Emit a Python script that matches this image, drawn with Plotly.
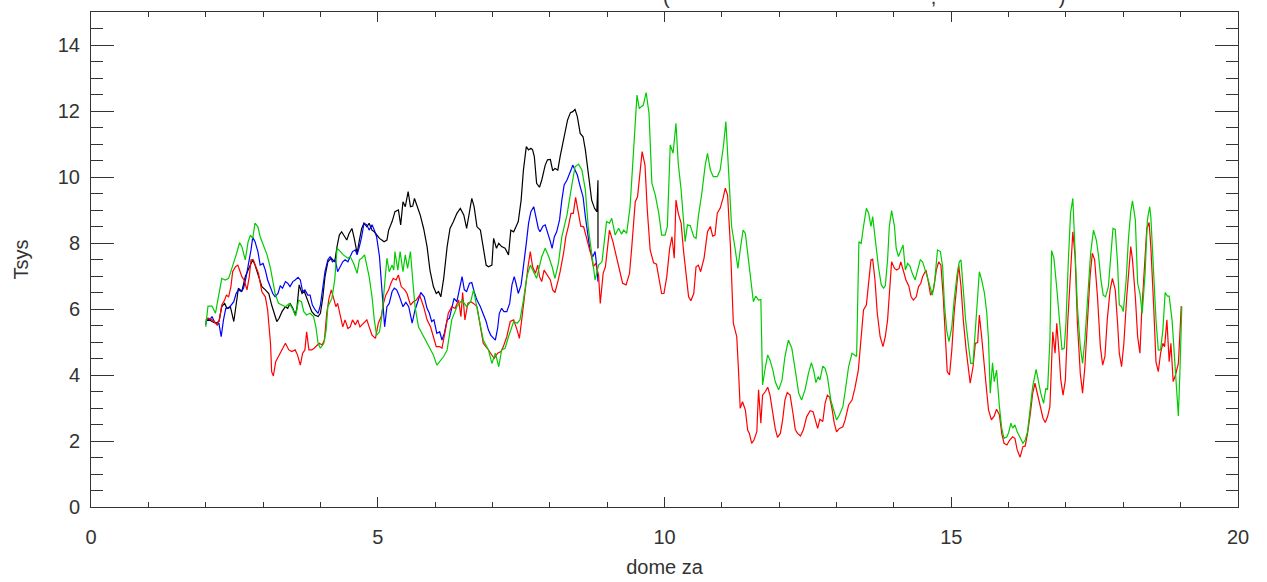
import plotly.graph_objects as go

# ---------------- data ----------------
green_x = [2.00,2.04,2.11,2.17,2.28,2.34,2.40,2.45,2.49,2.54,2.59,2.63,2.69,2.74,2.78,2.82,2.86,2.91,2.95,3.01,
           3.07,3.13,3.17,3.21,3.27,3.33,3.39,3.46,3.51,3.57,3.62,3.67,3.71,3.76,3.82,3.88,3.92,3.96,4.00,4.06,
           4.10,4.13,4.20,4.25,4.29,4.35,4.40,4.48,4.52,4.58,4.64,4.68,4.72,4.77,4.81,4.85,4.90,4.94,4.98,5.03,
           5.07,5.12,5.16,5.20,5.25,5.28,5.30,5.35,5.39,5.44,5.48,5.52,5.57,5.61,5.65,5.71,5.80,5.89,5.97,6.03,
           6.15,6.21,6.29,6.38,6.47,6.55,6.62,6.67,6.76,6.84,6.93,6.99,7.05,7.11,7.16,7.22,7.28,7.37,7.43,7.48,
           7.54,7.60,7.66,7.72,7.77,7.86,7.92,7.98,8.04,8.09,8.15,8.21,8.30,8.38,8.44,8.50,8.56,8.62,8.67,8.73,
           8.79,8.85,8.91,8.99,9.04,9.08,9.14,9.20,9.25,9.29,9.34,9.40,9.46,9.52,9.56,9.63,9.68,9.73,9.78,9.84,
           9.90,9.95,10.01,10.05,10.10,10.15,10.20,10.24,10.29,10.33,10.36,10.40,10.45,10.51,10.55,10.59,10.65,10.71,10.75,10.80,
           10.85,10.92,10.97,11.03,11.07,11.12,11.17,11.23,11.28,11.32,11.37,11.41,11.45,11.50,11.55,11.59,11.64,11.68,11.71,11.76,
           11.80,11.84,11.89,11.93,11.99,12.05,12.10,12.16,12.22,12.28,12.34,12.39,12.45,12.51,12.56,12.60,12.64,12.68,12.71,12.76,
           12.80,12.84,12.90,12.95,13.00,13.05,13.11,13.15,13.21,13.27,13.32,13.35,13.39,13.43,13.47,13.52,13.56,13.60,13.63,13.67,
           13.73,13.78,13.82,13.85,13.89,13.92,13.96,14.01,14.04,14.08,14.12,14.16,14.20,14.24,14.28,14.32,14.37,14.41,14.46,14.50,
           14.55,14.59,14.63,14.67,14.71,14.76,14.81,14.85,14.88,14.92,14.96,15.01,15.05,15.10,15.14,15.17,15.21,15.25,15.30,15.34,
           15.38,15.42,15.45,15.49,15.53,15.58,15.62,15.65,15.68,15.72,15.75,15.79,15.84,15.88,15.92,15.97,16.00,16.04,16.07,16.11,
           16.15,16.20,16.25,16.29,16.33,16.38,16.42,16.48,16.52,16.56,16.61,16.65,16.68,16.72,16.75,16.79,16.84,16.89,16.93,16.97,
           17.00,17.04,17.08,17.12,17.16,17.20,17.25,17.29,17.33,17.38,17.43,17.48,17.53,17.57,17.61,17.65,17.69,17.74,17.78,17.82,
           17.86,17.90,17.93,17.97,18.00,18.05,18.09,18.13,18.16,18.21,18.25,18.29,18.33,18.38,18.42,18.46,18.48,18.53,18.57,18.61,
           18.65,18.69,18.73,18.77,18.80,18.85,18.89,18.92,18.96,18.99,19.01,19.02]
green_y = [5.46,6.09,6.09,5.87,6.93,6.88,6.93,7.18,7.43,7.69,8.01,7.89,7.49,8.04,8.24,8.14,8.60,8.49,8.19,7.94,
           7.64,7.23,6.88,6.47,6.17,6.12,6.07,6.17,6.02,5.79,6.27,6.22,5.92,5.82,5.87,5.77,5.47,4.96,4.81,4.96,
           5.36,6.07,6.32,6.88,7.84,7.74,7.64,7.54,7.59,7.38,7.08,7.49,7.54,7.64,7.33,6.98,6.37,5.67,5.21,5.31,
           5.77,6.88,7.54,7.13,7.33,7.18,7.74,7.18,7.74,7.13,7.64,7.23,7.74,6.88,6.07,5.46,5.16,4.86,4.61,4.30,
           4.56,4.76,5.67,6.07,6.27,6.07,6.22,6.58,5.77,5.06,4.76,4.35,4.66,4.25,4.76,4.81,5.16,5.62,5.57,5.67,
           6.27,6.98,7.33,7.08,6.93,7.59,7.84,7.59,7.28,6.93,7.38,8.19,8.85,9.71,10.31,10.39,10.21,9.61,8.49,7.69,
           6.88,7.33,7.43,8.65,8.60,8.75,8.24,8.45,8.27,8.39,8.29,9.10,10.92,12.48,12.08,12.18,12.56,11.93,9.81,9.45,
           8.90,8.24,8.24,8.50,10.97,10.72,11.63,10.41,9.61,8.70,8.04,8.55,8.52,8.19,8.14,8.80,9.50,10.36,10.72,10.21,
           10.01,10.01,10.21,10.97,11.68,10.11,8.50,7.84,7.23,7.79,8.39,8.29,7.69,6.78,6.22,6.39,6.27,6.29,3.70,4.25,
           4.61,4.45,4.15,3.80,3.55,3.85,4.56,5.06,4.81,4.15,3.45,3.24,3.55,4.05,4.37,4.15,3.77,3.95,3.85,4.27,
           4.20,3.95,3.24,2.94,2.64,2.79,3.04,3.50,4.25,4.66,4.61,4.56,8.04,7.99,8.50,9.05,8.90,8.50,8.80,8.19,
           7.28,6.73,6.63,6.70,7.49,8.50,8.98,8.50,7.84,7.59,7.74,7.94,7.18,7.38,7.30,7.08,6.88,7.13,7.49,7.43,
           7.18,6.93,6.68,6.42,6.83,7.79,7.74,7.28,6.17,5.36,5.01,5.46,6.27,7.03,7.43,7.49,6.58,5.67,4.91,4.35,
           4.35,5.31,6.27,7.13,6.88,6.47,5.87,5.06,3.45,4.37,3.80,4.15,3.04,2.39,2.08,2.13,2.25,2.54,2.39,2.49,
           2.28,2.08,1.93,2.03,2.28,3.04,3.65,4.17,3.75,3.45,3.14,3.60,3.55,5.06,7.77,7.54,6.63,5.46,4.78,4.81,
           5.57,7.38,8.90,9.35,7.89,6.07,4.86,4.35,5.06,6.37,7.69,8.39,8.09,7.59,6.88,6.42,6.37,6.68,7.59,8.44,
           8.41,7.38,6.12,6.07,5.92,6.88,8.14,8.95,9.28,8.70,6.78,6.47,5.87,7.08,8.70,9.10,8.80,7.08,5.67,4.76,
           4.76,5.36,6.50,6.39,6.39,5.67,4.66,3.75,2.76,4.25,5.77,6.07]

red_x = [2.00,2.05,2.11,2.15,2.20,2.24,2.28,2.33,2.36,2.40,2.44,2.47,2.52,2.56,2.59,2.63,2.67,2.72,2.76,2.79,
         2.83,2.88,2.92,2.98,3.04,3.08,3.13,3.15,3.18,3.22,3.27,3.33,3.39,3.45,3.50,3.56,3.60,3.65,3.69,3.73,
         3.76,3.80,3.85,3.89,3.94,3.98,4.03,4.07,4.11,4.15,4.19,4.23,4.27,4.30,4.35,4.39,4.43,4.48,4.52,4.56,
         4.61,4.65,4.69,4.75,4.81,4.85,4.90,4.96,5.01,5.06,5.10,5.14,5.19,5.23,5.27,5.32,5.36,5.41,5.47,5.51,
         5.57,5.62,5.67,5.73,5.80,5.86,5.92,5.97,6.02,6.08,6.12,6.18,6.23,6.29,6.35,6.41,6.45,6.48,6.52,6.57,
         6.62,6.67,6.73,6.79,6.84,6.91,6.97,7.03,7.09,7.15,7.19,7.25,7.31,7.37,7.43,7.47,7.51,7.57,7.62,7.66,
         7.70,7.75,7.79,7.82,7.86,7.90,7.95,8.01,8.05,8.09,8.14,8.18,8.24,8.28,8.33,8.37,8.41,8.45,8.50,8.54,
         8.59,8.63,8.68,8.72,8.76,8.80,8.85,8.88,8.93,8.97,9.04,9.10,9.16,9.22,9.27,9.33,9.39,9.43,9.49,9.53,
         9.57,9.61,9.66,9.70,9.75,9.81,9.86,9.91,9.95,9.99,10.04,10.09,10.13,10.17,10.20,10.24,10.29,10.33,10.38,10.42,
         10.46,10.51,10.55,10.59,10.63,10.69,10.75,10.80,10.84,10.88,10.92,10.97,11.02,11.06,11.10,11.15,11.20,11.26,11.29,11.32,
         11.36,11.41,11.45,11.48,11.52,11.56,11.61,11.64,11.68,11.71,11.76,11.80,11.84,11.89,11.93,11.97,12.02,12.06,12.10,12.14,
         12.19,12.24,12.28,12.32,12.37,12.42,12.48,12.54,12.59,12.63,12.67,12.71,12.76,12.80,12.84,12.88,12.92,12.96,13.00,13.05,
         13.11,13.15,13.21,13.27,13.32,13.38,13.42,13.47,13.52,13.56,13.60,13.63,13.67,13.71,13.76,13.81,13.85,13.89,13.92,13.96,
         14.01,14.05,14.09,14.12,14.17,14.21,14.26,14.30,14.34,14.39,14.43,14.47,14.50,14.56,14.60,14.64,14.69,14.74,14.78,14.82,
         14.86,14.91,14.93,14.97,15.01,15.05,15.10,15.13,15.17,15.21,15.26,15.30,15.33,15.38,15.42,15.46,15.49,15.53,15.57,15.61,
         15.65,15.70,15.75,15.79,15.84,15.88,15.92,15.97,16.02,16.07,16.11,16.15,16.20,16.25,16.29,16.33,16.38,16.42,16.46,16.50,
         16.55,16.60,16.64,16.68,16.72,16.75,16.77,16.81,16.84,16.88,16.91,16.95,16.99,17.03,17.07,17.12,17.16,17.20,17.25,17.29,
         17.33,17.38,17.42,17.46,17.50,17.55,17.60,17.64,17.68,17.72,17.77,17.81,17.86,17.90,17.93,17.97,18.01,18.06,18.11,18.13,
         18.16,18.21,18.25,18.29,18.32,18.36,18.41,18.45,18.48,18.53,18.57,18.61,18.65,18.69,18.72,18.76,18.80,18.83,18.87,18.91,
         18.96,18.99,19.01]
red_y = [5.67,5.72,5.67,5.62,5.52,5.67,6.12,6.27,6.42,6.37,6.68,7.13,7.28,7.33,7.18,6.98,6.88,6.58,6.98,7.49,
         7.49,7.28,7.08,6.52,6.37,5.97,4.96,4.10,3.97,4.40,4.56,4.76,4.96,4.76,4.71,4.76,4.61,4.30,4.66,4.76,
         5.31,4.76,4.76,4.81,4.91,4.96,4.91,5.06,5.87,6.32,6.58,6.32,6.07,6.17,5.82,5.46,5.67,5.41,5.46,5.67,
         5.52,5.67,5.46,5.57,5.67,5.46,5.21,5.11,5.57,5.77,6.17,6.42,6.58,6.78,6.93,6.88,7.03,6.68,6.58,6.47,
         6.12,6.22,6.27,6.42,6.07,5.67,5.46,5.16,4.86,4.86,4.81,5.36,5.87,6.07,6.02,6.27,5.77,6.50,5.67,6.17,
         6.22,6.17,6.07,5.46,4.96,4.81,4.66,4.50,4.66,4.71,4.86,5.16,5.62,5.67,5.36,5.11,5.67,6.58,7.28,7.74,
         7.28,7.08,7.33,6.98,6.83,7.18,7.03,6.88,6.58,6.50,6.83,7.13,7.69,8.19,8.55,8.90,8.90,9.38,8.90,8.51,
         8.49,8.19,7.89,7.64,7.28,7.38,7.03,6.17,7.08,7.28,8.39,8.04,7.59,7.08,6.78,6.73,7.08,7.89,9.25,9.40,
         10.01,10.77,10.36,9.00,7.79,7.40,7.36,6.88,6.47,6.47,6.98,7.84,8.19,7.54,9.30,8.90,8.60,7.79,6.98,6.37,
         6.25,6.47,7.28,7.33,7.13,7.54,8.34,8.50,8.21,8.24,8.90,9.05,9.35,9.66,9.45,7.89,5.57,5.16,4.15,2.99,
         3.19,2.94,2.33,2.23,1.93,2.03,2.28,3.55,2.54,3.39,3.50,3.63,3.39,2.84,2.38,2.11,2.23,2.64,3.24,3.47,
         3.39,2.84,2.35,2.23,2.15,2.33,2.74,2.92,2.89,2.64,2.38,2.66,2.59,3.14,3.39,3.32,2.99,2.54,2.28,2.38,
         2.43,2.64,3.09,3.24,3.60,4.15,4.86,5.97,6.12,6.78,7.49,7.51,6.88,5.87,5.16,4.86,5.16,5.67,6.58,7.43,
         7.23,7.18,7.23,7.43,7.13,6.88,6.70,6.37,6.27,6.37,6.68,6.78,6.98,7.18,6.83,6.42,6.58,7.18,7.43,7.33,
         6.37,4.76,4.10,4.00,4.76,5.87,6.88,7.33,6.68,5.67,4.76,4.05,3.75,4.25,4.96,4.98,5.82,5.16,4.30,3.65,
         2.94,2.64,2.76,2.96,2.79,2.23,1.93,1.88,2.03,2.13,2.08,1.73,1.51,1.83,1.85,2.23,2.84,3.45,3.75,3.45,
         3.04,2.69,2.56,2.74,3.04,4.40,5.31,4.66,5.57,4.66,3.85,3.39,3.85,5.57,6.98,8.34,7.59,5.57,4.05,3.45,
         4.25,5.77,6.98,7.69,7.49,6.37,4.86,4.30,4.56,5.67,6.58,6.93,6.58,5.57,4.66,4.25,4.96,6.37,7.49,7.89,
         7.49,6.37,5.16,4.66,5.87,7.18,8.44,8.62,7.89,6.07,4.40,4.10,4.66,4.96,4.86,5.67,4.40,4.96,3.80,4.00,
         4.35,5.36,6.09]

black_x = [2.00,2.05,2.11,2.17,2.23,2.28,2.33,2.37,2.43,2.49,2.53,2.57,2.63,2.69,2.74,2.78,2.82,2.86,2.92,2.98,
           3.04,3.10,3.15,3.20,3.24,3.28,3.33,3.39,3.43,3.47,3.52,3.56,3.59,3.63,3.68,3.72,3.76,3.80,3.85,3.90,
           3.96,4.00,4.04,4.08,4.13,4.19,4.25,4.29,4.33,4.37,4.42,4.46,4.50,4.55,4.59,4.64,4.68,4.72,4.76,4.81,
           4.85,4.90,4.94,4.98,5.03,5.07,5.11,5.16,5.19,5.25,5.30,5.36,5.40,5.44,5.48,5.53,5.57,5.61,5.64,5.68,
           5.74,5.80,5.86,5.91,5.97,6.02,6.06,6.10,6.15,6.21,6.26,6.32,6.38,6.44,6.50,6.55,6.60,6.64,6.68,6.73,
           6.79,6.84,6.89,6.93,6.99,7.02,7.07,7.11,7.16,7.22,7.28,7.32,7.37,7.41,7.45,7.50,7.54,7.59,7.63,7.67,
           7.70,7.73,7.77,7.82,7.86,7.92,7.96,8.01,8.05,8.09,8.14,8.18,8.23,8.27,8.31,8.36,8.40,8.44,8.48,8.53,
           8.58,8.62,8.66,8.69,8.73,8.78,8.82,8.84,8.84,8.845,8.845]
black_y = [5.62,5.69,5.62,5.57,5.62,6.07,6.17,6.02,6.07,5.62,6.12,6.63,6.53,6.98,7.18,7.33,7.49,7.33,7.03,6.68,
           6.58,6.47,6.12,5.87,5.62,5.72,5.92,6.07,6.02,6.17,6.02,5.82,6.02,6.73,6.47,6.53,6.32,6.12,5.92,5.82,
           5.77,5.87,6.32,6.98,7.43,7.54,7.43,7.89,8.24,8.34,8.19,8.09,8.29,8.44,8.14,7.69,8.09,8.44,8.60,8.49,
           8.60,8.39,8.34,8.24,8.14,8.09,8.04,8.09,8.39,8.65,8.95,9.00,8.55,9.25,9.10,9.56,9.10,9.12,9.35,9.15,
           8.85,8.44,7.89,7.18,6.68,6.47,6.53,6.37,6.93,7.89,8.44,8.65,8.90,9.05,8.85,8.44,8.90,9.35,9.10,8.49,
           8.39,7.79,7.33,7.28,7.33,8.14,7.84,7.99,7.89,7.84,7.64,8.39,8.34,8.49,8.65,9.30,10.21,10.92,10.82,10.87,
           10.82,10.62,9.81,9.69,9.91,10.36,10.52,10.53,10.19,10.26,10.21,10.62,11.07,11.42,11.73,11.95,11.98,12.05,11.83,11.32,
           11.22,10.82,10.21,9.81,9.30,9.05,8.95,9.90,7.85,9.90,7.85]

blue_x = [2.00,2.02,2.07,2.11,2.15,2.20,2.23,2.27,2.31,2.35,2.40,2.45,2.49,2.53,2.57,2.62,2.66,2.70,2.75,2.79,
          2.82,2.86,2.91,2.95,3.00,3.04,3.08,3.13,3.17,3.21,3.26,3.30,3.34,3.39,3.43,3.47,3.52,3.56,3.61,3.65,
          3.69,3.73,3.78,3.82,3.86,3.91,3.96,4.00,4.04,4.08,4.13,4.17,4.21,4.26,4.30,4.35,4.39,4.43,4.48,4.52,
          4.56,4.61,4.64,4.68,4.72,4.76,4.81,4.85,4.90,4.94,4.98,5.03,5.06,5.09,5.12,5.16,5.20,5.25,5.29,5.33,
          5.37,5.44,5.49,5.54,5.60,5.65,5.71,5.75,5.81,5.86,5.90,5.94,5.98,6.03,6.08,6.12,6.16,6.21,6.25,6.29,
          6.33,6.38,6.43,6.47,6.51,6.55,6.60,6.64,6.68,6.73,6.79,6.84,6.89,6.93,6.97,7.02,7.05,7.09,7.12,7.16,
          7.20,7.25,7.30,7.34,7.38,7.41,7.45,7.50,7.54,7.59,7.63,7.67,7.72,7.76,7.80,7.83,7.88,7.92,7.96,8.01,
          8.04,8.08,8.12,8.17,8.21,8.25,8.30,8.34,8.38,8.40,8.44,8.48,8.53,8.58,8.62,8.66,8.70,8.75,8.79,8.82,
          8.84]
blue_y = [5.52,5.72,5.67,5.77,5.62,5.52,5.57,5.16,5.67,6.02,6.02,6.12,6.22,6.47,6.58,6.53,6.63,6.93,7.38,7.79,
          8.17,8.04,7.74,7.33,7.38,7.18,6.88,6.68,6.47,6.37,6.47,6.70,6.63,6.83,6.78,6.68,6.83,6.88,6.96,6.88,
          6.53,6.58,6.42,6.42,6.12,5.97,5.87,6.12,6.68,7.13,7.49,7.59,7.43,7.49,7.13,7.28,7.43,7.49,7.43,7.59,
          7.74,7.79,7.64,7.89,8.19,8.60,8.55,8.39,8.55,8.39,8.19,7.59,6.78,6.07,5.46,6.07,6.17,6.53,6.63,6.58,
          6.42,6.07,6.20,6.07,5.57,5.97,6.27,6.50,6.37,6.02,5.87,5.62,5.67,5.26,5.31,5.06,5.26,5.67,5.72,6.02,
          6.32,6.22,6.68,6.98,6.58,6.53,6.78,6.80,6.53,6.27,6.07,5.87,5.62,5.36,5.21,5.11,5.06,5.41,5.87,6.02,
          5.92,5.92,6.17,6.73,6.98,6.78,6.47,6.73,7.38,7.99,8.60,8.95,9.10,8.80,8.44,8.34,8.51,8.55,8.34,8.04,
          7.84,8.19,8.34,8.70,9.30,9.76,9.91,10.06,10.26,10.36,10.21,10.06,9.71,9.40,8.80,8.29,7.79,7.58,7.74,7.28,
          6.83]

x_ticks = [0, 5, 10, 15, 20]
y_ticks = [0, 2, 4, 6, 8, 10, 12, 14]

# ---------------- figure ----------------
FONT = "Liberation Sans"
AX = "#333333"

fig = go.Figure()
for xs, ys, col in [(black_x, black_y, "#000000"),
                    (blue_x, blue_y, "#0000ff"),
                    (red_x, red_y, "#ff0000"),
                    (green_x, green_y, "#00cc00")]:
    fig.add_trace(go.Scatter(x=xs, y=ys, mode="lines",
                             line=dict(color=col, width=1.2),
                             showlegend=False, hoverinfo="skip"))

fig.update_xaxes(range=[0, 20], tickvals=x_ticks, ticktext=[str(v) for v in x_ticks],
                 ticks="inside", ticklen=10, tickwidth=1, tickcolor=AX,
                 minor=dict(dtick=1, ticks="inside", ticklen=5, tickcolor=AX, showgrid=False),
                 showline=True, linecolor=AX, linewidth=1, mirror="allticks",
                 showgrid=False, zeroline=False, ticklabelstandoff=12, automargin=False,
                 tickfont=dict(family=FONT, size=20, color=AX),
                 title=dict(text="dome za", font=dict(family=FONT, size=20, color=AX), standoff=12))
fig.update_yaxes(range=[0, 15], tickvals=y_ticks, ticktext=[str(v) for v in y_ticks],
                 ticks="inside", ticklen=23, tickwidth=1, tickcolor=AX,
                 minor=dict(dtick=0.5, ticks="inside", ticklen=12, tickcolor=AX, showgrid=False),
                 showline=True, linecolor=AX, linewidth=1, mirror="allticks",
                 showgrid=False, zeroline=False, ticklabelstandoff=6, automargin=False,
                 tickfont=dict(family=FONT, size=20, color=AX),
                 title=dict(text="Tsys", font=dict(family=FONT, size=20, color=AX), standoff=23))

# title of the original plot, clipped by the top edge: only "(", "," and ")" show
fig.add_annotation(text="(" + "\u00a0" * 47 + "," + "\u00a0" * 22 + ")",
                   xref="paper", yref="paper", x=(662 - 91) / 1147, y=1 + 3 / 495,
                   xanchor="left", yanchor="bottom", showarrow=False, borderpad=0,
                   font=dict(family=FONT, size=20, color=AX))

fig.update_layout(width=1267, height=582,
                  margin=dict(l=91, r=29, t=12, b=75, autoexpand=False),
                  paper_bgcolor="white", plot_bgcolor="white")

# remove the browser's default 8px page margin so the figure starts at the window corner
fig.write_html("out.html", config={"displayModeBar": False},
               post_script="document.body.style.margin='0';")
